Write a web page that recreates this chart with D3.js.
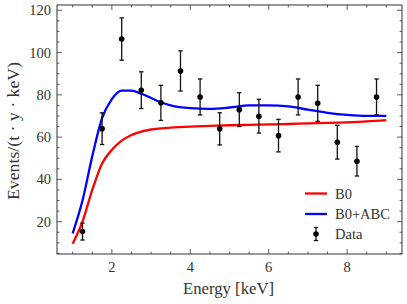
<!DOCTYPE html>
<html>
<head>
<meta charset="utf-8">
<script src="https://cdn.jsdelivr.net/npm/d3@7"></script>
<style>
  body { margin: 0; background: #fff; }
</style>
</head>
<body>
<svg id="chart" width="407" height="304"></svg>
<script>
// measured points
var dataE = [1.25, 1.75, 2.25, 2.75, 3.25, 3.75, 4.25, 4.75, 5.25, 5.75, 6.25, 6.75, 7.25, 7.75, 8.25, 8.75]
var dataY = [15.3, 64, 106.4, 82.2, 76.2, 91.3, 79, 63.9, 73, 69.9, 60.7, 79, 76, 57.6, 48.6, 79]
var dataErr = [4, 7.5, 10, 8.7, 8.3, 9.5, 8.5, 7.6, 8, 8, 7.7, 8.5, 8.5, 8, 7, 8.5]

// model curves
var curveE = [1.0, 1.25, 1.5, 1.75, 2.0, 2.25, 2.5, 2.75, 3.0, 3.25, 3.5, 4.0, 4.5, 5.0, 5.5, 6.0, 6.5, 7.0, 7.5, 8.0, 8.5, 9.0]
var b0 = [9.6, 20, 35, 47.5, 54, 58.3, 61, 62.6, 63.6, 64.1, 64.5, 65, 65.3, 65.6, 65.8, 66, 66.2, 66.5, 66.7, 67, 67.4, 68]
var b0abc = [14.5, 30, 51, 69, 78, 82, 82, 80.5, 78.5, 76.5, 75, 73.7, 73.4, 74, 75, 75, 74.5, 73, 71.5, 70.5, 70, 70]

var xTicks = [2, 4, 6, 8]
var yTicks = [20, 40, 60, 80, 100, 120]

var margin = { top: 5, right: 5, bottom: 50, left: 57 }
var width = 407 - margin.left - margin.right
var height = 304 - margin.top - margin.bottom

var svg = d3.select('#chart')
var g = svg.append('g').attr('transform', 'translate(' + margin.left + ',' + margin.top + ')')

var x = d3.scaleLinear().domain([0.6, 9.4]).range([0, width])
var y = d3.scaleLinear().domain([4.7, 122.5]).range([height, 0])

var minorX = d3.range(1, 9.5, 0.5).filter(d => xTicks.indexOf(d) < 0)
var minorY = d3.range(5, 122, 5).filter(d => yTicks.indexOf(d) < 0)

// ticks pointing inward on all four sides
var tk = g.append('g').attr('stroke', '#333').attr('stroke-width', 0.8)
xTicks.forEach(d => {
  tk.append('line').attr('x1', x(d)).attr('x2', x(d)).attr('y1', height).attr('y2', height - 5)
  tk.append('line').attr('x1', x(d)).attr('x2', x(d)).attr('y1', 0).attr('y2', 5)
})
minorX.forEach(d => {
  tk.append('line').attr('x1', x(d)).attr('x2', x(d)).attr('y1', height).attr('y2', height - 2.5)
  tk.append('line').attr('x1', x(d)).attr('x2', x(d)).attr('y1', 0).attr('y2', 2.5)
})
yTicks.forEach(d => {
  tk.append('line').attr('y1', y(d)).attr('y2', y(d)).attr('x1', 0).attr('x2', 5)
  tk.append('line').attr('y1', y(d)).attr('y2', y(d)).attr('x1', width).attr('x2', width - 5)
})
minorY.forEach(d => {
  tk.append('line').attr('y1', y(d)).attr('y2', y(d)).attr('x1', 0).attr('x2', 2.5)
  tk.append('line').attr('y1', y(d)).attr('y2', y(d)).attr('x1', width).attr('x2', width - 2.5)
})

function label (sel, size) {
  return sel.style('font-family', '"Liberation Serif"').style('font-size', size + 'px').style('fill', '#333')
}

label(g.selectAll('.xlab').data(xTicks).join('text'), 14.5)
  .attr('x', d => x(d)).attr('y', height + 18)
  .attr('text-anchor', 'middle')
  .text(d => d)

label(g.selectAll('.ylab').data(yTicks).join('text'), 14.5)
  .attr('x', -6).attr('y', d => y(d) + 5)
  .attr('text-anchor', 'end')
  .text(d => d)

label(g.append('text'), 17)
  .attr('x', width / 2 - 1).attr('y', height + 40)
  .attr('text-anchor', 'middle')
  .attr('textLength', 91).attr('lengthAdjust', 'spacingAndGlyphs')
  .text('Energy [keV]')

label(svg.append('text'), 17)
  .attr('transform', 'translate(19,131) rotate(-90)')
  .attr('text-anchor', 'middle')
  .attr('textLength', 138).attr('lengthAdjust', 'spacingAndGlyphs')
  .text('Events/(t \u00b7 y \u00b7 keV)')

var line = d3.line().x(d => x(d[0])).y(d => y(d[1])).curve(d3.curveMonotoneX)

g.append('path').datum(curveE.map((e, i) => [e, b0[i]]))
  .attr('d', line).attr('fill', 'none').attr('stroke', '#ff0000').attr('stroke-width', 2.3)
g.append('path').datum(curveE.map((e, i) => [e, b0abc[i]]))
  .attr('d', line).attr('fill', 'none').attr('stroke', '#0000ff').attr('stroke-width', 2.3)

// error bars
var pts = dataE.map((e, i) => ({ e: e, v: dataY[i], err: dataErr[i] }))
var eb = g.append('g').attr('stroke', '#111').attr('stroke-width', 1.3)
pts.forEach(p => {
  eb.append('line').attr('x1', x(p.e)).attr('x2', x(p.e)).attr('y1', y(p.v - p.err)).attr('y2', y(p.v + p.err))
  eb.append('line').attr('x1', x(p.e) - 2.2).attr('x2', x(p.e) + 2.2).attr('y1', y(p.v - p.err)).attr('y2', y(p.v - p.err))
  eb.append('line').attr('x1', x(p.e) - 2.2).attr('x2', x(p.e) + 2.2).attr('y1', y(p.v + p.err)).attr('y2', y(p.v + p.err))
})
g.selectAll('circle.pt').data(pts).join('circle')
  .attr('cx', d => x(d.e)).attr('cy', d => y(d.v)).attr('r', 2.8).attr('fill', '#000')

// frame
g.append('rect').attr('width', width).attr('height', height)
  .attr('fill', 'none').attr('stroke', '#333').attr('stroke-width', 1)

// legend
var lg = svg.append('g')
var legendRows = [['B0', '#ff0000'], ['B0+ABC', '#0000ff']]
legendRows.forEach((r, i) => {
  var ly = 193.5 + i * 20.5
  lg.append('line').attr('x1', 305).attr('x2', 327).attr('y1', ly).attr('y2', ly)
    .attr('stroke', r[1]).attr('stroke-width', 2.3)
  label(lg.append('text'), 14.5).attr('x', 335).attr('y', ly + 5).text(r[0])
})
lg.append('line').attr('x1', 316).attr('x2', 316).attr('y1', 227.5).attr('y2', 240.5).attr('stroke', '#111').attr('stroke-width', 1.3)
lg.append('line').attr('x1', 313.8).attr('x2', 318.2).attr('y1', 227.5).attr('y2', 227.5).attr('stroke', '#111').attr('stroke-width', 1.3)
lg.append('line').attr('x1', 313.8).attr('x2', 318.2).attr('y1', 240.5).attr('y2', 240.5).attr('stroke', '#111').attr('stroke-width', 1.3)
lg.append('circle').attr('cx', 316).attr('cy', 234).attr('r', 2.8).attr('fill', '#000')
label(lg.append('text'), 14.5).attr('x', 335).attr('y', 239).text('Data')
</script>
</body>
</html>
